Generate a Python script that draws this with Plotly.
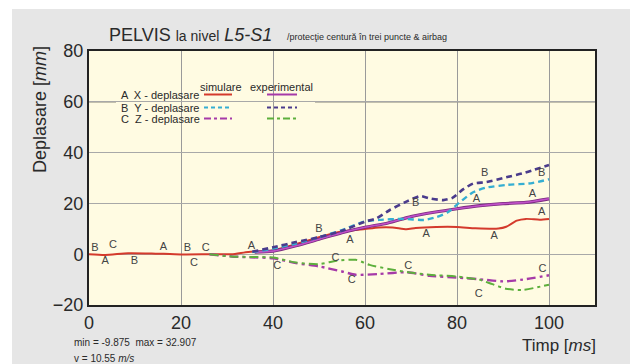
import plotly.graph_objects as go

# ---------------- data ----------------
t_sim_x = [0, 3.5, 8.5, 13.6, 20, 26.6, 31, 34.6, 37.5, 40, 45, 50, 55, 60, 63, 66, 69, 71, 75.5, 80, 84, 89, 90.7, 93, 95, 98, 100]
v_sim_x = [0, -0.3, 0.4, 0.3, -0.1, 0, 0, 0.9, 1.1, 1.5, 3.9, 6.7, 8.9, 9.9, 10.5, 10.5, 9.8, 10.3, 10.7, 10.7, 10.2, 10.1, 10.8, 13.2, 13.9, 13.6, 13.9]

t_exp_x = [36, 40, 45, 50, 55, 60, 65, 70, 75, 80, 85, 90, 95, 100]
v_exp_x = [0.8, 1.2, 3.3, 5.9, 8.5, 10.6, 12.3, 14.8, 16.5, 17.9, 19.1, 19.9, 20.4, 21.8]

t_sim_y = [35.5, 40, 45, 50, 55, 60, 63, 68, 73, 75.5, 78, 80.5, 83.4, 86.3, 91, 96, 100]
v_sim_y = [0.8, 2.2, 4.2, 6.7, 9.5, 12.9, 13.5, 13.9, 13.5, 14.6, 16.5, 20.3, 24.3, 26.2, 27.3, 27.9, 29.5]

t_exp_y = [35.5, 40, 45, 50, 55, 60, 62.5, 65.4, 69, 72, 74, 77, 79, 81.3, 83.5, 86.4, 90.7, 94.2, 100]
v_exp_y = [1.0, 2.7, 4.8, 6.7, 9.2, 12.8, 14.1, 17.4, 20.7, 22.9, 22.0, 21.3, 22.2, 25.5, 27.8, 28.4, 30.3, 31.8, 35.1]

t_sim_z = [26.2, 31, 35, 40, 45, 50, 55, 58, 63, 69, 74, 80, 85.7, 90, 94.3, 100]
v_sim_z = [0, -0.9, -1.2, -1.6, -3.5, -4.8, -6.8, -8.1, -7.8, -7.1, -8.5, -9.2, -10.0, -10.7, -10.0, -8.3]

t_exp_z = [26.2, 31, 35, 40, 45, 50, 53.8, 58, 61, 65.4, 69.7, 74, 80, 84.8, 87.7, 90.6, 94.2, 100]
v_exp_z = [0, -0.9, -1.1, -1.3, -3.3, -3.9, -2.6, -2.2, -4.2, -5.9, -7.2, -8.1, -8.8, -10.0, -11.8, -13.6, -14.1, -12.0]

# curve marker letters
letter_text = ["B", "C", "A", "B", "A", "B", "C", "C", "A", "C", "B", "A", "C", "C", "B", "A", "C", "B", "A", "A", "C", "A", "B", "A", "C"]
letter_t = [1.3, 5.2, 3.5, 9.9, 16.2, 21.4, 25.4, 22.8, 35.3, 40.9, 50.0, 56.7, 53.6, 57.1, 71.0, 73.3, 69.4, 86.0, 84.2, 88.1, 84.7, 96.4, 98.4, 98.4, 98.6]
letter_v = [2.5, 3.4, -2.8, -2.8, 2.9, 2.5, 2.5, -3.4, 3.1, -4.7, 10.0, 5.4, -1.4, -10.4, 19.9, 8.0, -4.7, 31.8, 21.5, 7.1, -15.9, 23.8, 31.8, 16.5, -5.8]

x_ticks = [0, 20, 40, 60, 80, 100]
y_ticks = [-20, 0, 20, 40, 60, 80]

# ---------------- styling ----------------
FONT = "Liberation Sans, Arial, sans-serif"
TXT = "#2a2a2a"
RED = "#d43a2c"
MAG = "#a63aa8"
CYAN = "#35aed2"
INDIGO = "#4a3b8c"
GREEN = "#5daf3c"
PLOT_BG = "#fffbe2"
PANEL = "#e6e6e6"

L, R, T, B = 89, 35, 51, 59
W, H = 630, 364
PW, PH = W - L - R, H - T - B


def px(xp):
    return (xp - L) / PW


def py(yp):
    return (H - B - yp) / PH


fig = go.Figure()

series = [
    (t_sim_x, v_sim_x, RED, "solid", 2),
    (t_exp_x, v_exp_x, "#7a2a7e", "solid", 3.2),
    (t_exp_x, v_exp_x, "#c050c8", "solid", 1.6),
    (t_sim_y, v_sim_y, CYAN, "6px,4px", 2.4),
    (t_exp_y, v_exp_y, INDIGO, "6px,4px", 2.6),
    (t_sim_z, v_sim_z, MAG, "9px,4px,3px,4px", 2.4),
    (t_exp_z, v_exp_z, GREEN, "9px,4px,3px,4px", 2),
]
for tx, vy, col, dash, w in series:
    fig.add_trace(go.Scatter(x=tx, y=vy, mode="lines", showlegend=False, hoverinfo="skip",
                             line=dict(color=col, dash=dash, width=w, shape="spline", smoothing=0.6)))

fig.add_trace(go.Scatter(x=letter_t, y=letter_v, mode="text", text=letter_text, showlegend=False,
                         hoverinfo="skip", textfont=dict(family=FONT, size=11, color="#444444")))

shapes = []
# white border strips (top and left) outside the grey panel
shapes.append(dict(type="rect", xref="paper", yref="paper", x0=px(-5), x1=px(W + 5), y0=py(9), y1=py(-5),
                   fillcolor="white", line=dict(width=0), layer="below"))
shapes.append(dict(type="rect", xref="paper", yref="paper", x0=px(-5), x1=px(12), y0=py(H + 5), y1=py(-5),
                   fillcolor="white", line=dict(width=0), layer="below"))
# darker 60 gridline
shapes.append(dict(type="line", xref="paper", yref="y", x0=0, x1=1, y0=60, y1=60,
                   line=dict(color="#333333", width=1), layer="between"))
# legend box background
shapes.append(dict(type="rect", xref="paper", yref="paper", x0=px(116), x1=px(315), y0=py(127), y1=py(80),
                   fillcolor=PLOT_BG, line=dict(width=0), layer="between"))
# legend samples
rows = [94.5, 107.5, 118.5]
sim_styles = [(RED, "solid", 2), (CYAN, "4px,3px", 2.2), (MAG, "7px,3px,3px,3px", 2.2)]
exp_styles = [(MAG, "solid", 2), (INDIGO, "4px,3px", 2.2), (GREEN, "7px,3px,3px,3px", 2)]
for yr, s, e in zip(rows, sim_styles, exp_styles):
    shapes.append(dict(type="line", xref="paper", yref="paper", x0=px(204), x1=px(232), y0=py(yr), y1=py(yr),
                       line=dict(color=s[0], dash=s[1], width=s[2]), layer="above"))
    shapes.append(dict(type="line", xref="paper", yref="paper", x0=px(267), x1=px(297), y0=py(yr), y1=py(yr),
                       line=dict(color=e[0], dash=e[1], width=e[2]), layer="above"))

ann = []


def text(x, y, s, size, xanchor="left", yanchor="middle", angle=0, color=TXT):
    ann.append(dict(xref="paper", yref="paper", x=px(x), y=py(y), text=s, showarrow=False,
                    xanchor=xanchor, yanchor=yanchor, textangle=angle,
                    font=dict(family=FONT, size=size, color=color)))


text(107, 35, "PELVIS <span style='font-size:14px'>la nivel</span> <i>L5-S1</i>", 18)
text(285, 37, "/protecţie centură în trei puncte &amp; airbag", 9)
text(40, 110, "Deplasare [<i>mm</i>]", 18, xanchor="center", angle=-90)
text(598, 345, "Timp [<i>ms</i>]", 17, xanchor="right")
text(72, 342, "min = -9.875  max = 32.907", 10)
text(72, 358, "v = 10.55 <i>m/s</i>", 10)
legend_labels = ["A  X - deplasare", "B  Y - deplasare", "C  Z - deplasare"]
for yr, lab in zip(rows, legend_labels):
    text(119, yr, lab, 11)
text(198, 87, "simulare", 11)
text(248, 87, "experimental", 11)

fig.update_layout(
    width=W, height=H, margin=dict(l=L, r=R, t=T, b=B),
    paper_bgcolor=PANEL, plot_bgcolor=PLOT_BG,
    shapes=shapes, annotations=ann,
    font=dict(family=FONT, color=TXT),
    xaxis=dict(range=[0, 110], tickvals=x_ticks, showgrid=True, gridcolor="#9a9a9a", gridwidth=1,
               zeroline=False, showline=True, mirror=True, linecolor="#222222", linewidth=2,
               ticks="", tickfont=dict(size=18, family=FONT, color=TXT), fixedrange=True),
    yaxis=dict(range=[-20, 80], tickvals=y_ticks, showgrid=True, gridcolor="#a8a8a8", gridwidth=1,
               zeroline=False, showline=True, mirror=True, linecolor="#222222", linewidth=2,
               ticks="", tickfont=dict(size=18, family=FONT, color=TXT), fixedrange=True),
)

fig.write_html("out.html")
